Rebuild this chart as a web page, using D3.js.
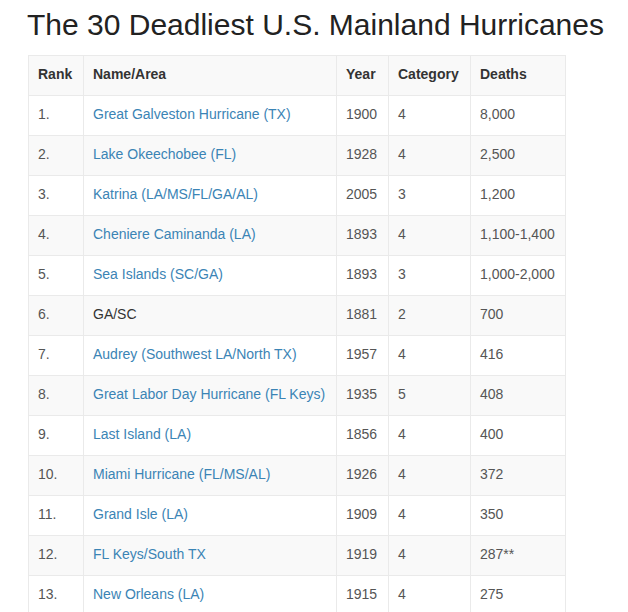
<!DOCTYPE html>
<html><head><meta charset="utf-8">
<script src="https://cdn.jsdelivr.net/npm/d3@7"></script>
<style>body{margin:0;background:#fff}</style></head>
<body><svg id="c" width="628" height="612"></svg>
<script>
const headers = ["Rank","Name/Area","Year","Category","Deaths"];
const ranks = ["1.","2.","3.","4.","5.","6.","7.","8.","9.","10.","11.","12.","13."];
const names = ["Great Galveston Hurricane (TX)","Lake Okeechobee (FL)","Katrina (LA/MS/FL/GA/AL)","Cheniere Caminanda (LA)","Sea Islands (SC/GA)","GA/SC","Audrey (Southwest LA/North TX)","Great Labor Day Hurricane (FL Keys)","Last Island (LA)","Miami Hurricane (FL/MS/AL)","Grand Isle (LA)","FL Keys/South TX","New Orleans (LA)"];
const isLink = [1,1,1,1,1,0,1,1,1,1,1,1,1];
const years = ["1900","1928","2005","1893","1893","1881","1957","1935","1856","1926","1909","1919","1915"];
const categories = ["4","4","3","4","3","2","4","5","4","4","4","4","4"];
const deaths = ["8,000","2,500","1,200","1,100-1,400","1,000-2,000","700","416","408","400","372","350","287**","275"];

const svg = d3.select("#c");
const font = "'Liberation Sans', Arial, sans-serif";
svg.append("text").attr("x",27).attr("y",35).attr("font-family",font).attr("font-size",30).attr("fill","#222").text("The 30 Deadliest U.S. Mainland Hurricanes");

const colEdges = [28,83,336,388,470,565];
const x = d3.scaleOrdinal().domain(headers).range(colEdges.slice(0,5));
const rowsN = ranks.length;
const y = d3.scaleLinear().domain([0, rowsN+1]).range([55, 55+40*(rowsN+1)]);
const W = colEdges[5]-colEdges[0];

for (let i=0;i<=rowsN;i++){
  svg.append("rect").attr("x",28).attr("y",y(i)).attr("width",W).attr("height",40)
    .attr("fill", i%2===0 ? "#f9f9f9" : "#fff");
}
for (let i=0;i<=rowsN+1;i++){
  svg.append("line").attr("x1",28).attr("x2",565).attr("y1",y(i)+0.5).attr("y2",y(i)+0.5).attr("stroke","#eaeaea");
}
colEdges.forEach(c=>svg.append("line").attr("x1",c+0.5).attr("x2",c+0.5).attr("y1",y(0)).attr("y2",y(rowsN+1)).attr("stroke","#eaeaea"));

headers.forEach(h=>svg.append("text").attr("x",x(h)+10).attr("y",y(0)+24).attr("font-family",font)
  .attr("font-size",14).attr("font-weight","bold").attr("fill","#333").text(h));

const rows = ranks.map((r,i)=>({r, n:names[i], l:isLink[i], yr:years[i], c:categories[i], d:deaths[i]}));
rows.forEach((d,i)=>{
  const ty = y(i+1)+24;
  const cells = [[d.r,"Rank","#555"],[d.n,"Name/Area",d.l?"#3b84b5":"#333"],[d.yr,"Year","#555"],[d.c,"Category","#555"],[d.d,"Deaths","#555"]];
  cells.forEach(([t,h,col])=>svg.append("text").attr("x",x(h)+10).attr("y",ty).attr("font-family",font)
    .attr("font-size",14).attr("fill",col).text(t));
});
</script></body></html>
